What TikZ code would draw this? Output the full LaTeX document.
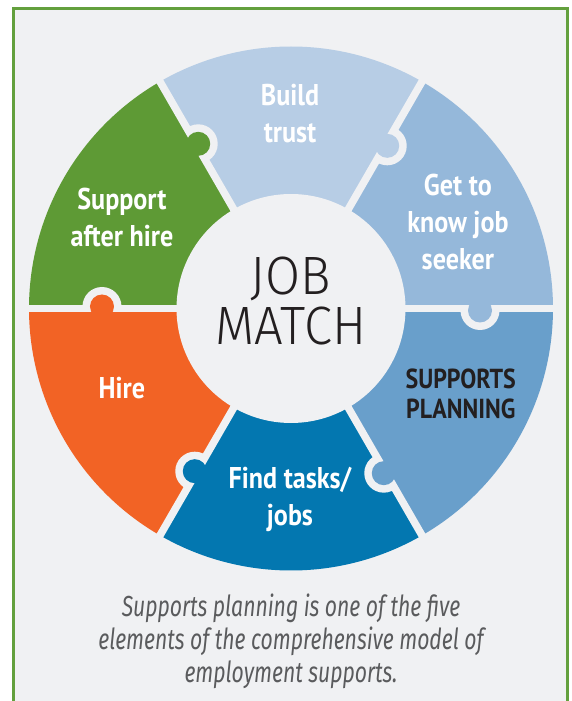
\documentclass[tikz,border=0pt]{standalone}
\usepackage{fontspec}
\usepackage{xcolor}
\usetikzlibrary{positioning}
\newfontfamily\tagfont[FakeStretch=0.87]{PT Sans}
\newfontfamily\hubfont[FakeStretch=0.94]{Fira Sans Light}
\newfontfamily\notefont[FakeStretch=0.73]{Fira Sans}

\definecolor{paper}{HTML}{F0F1F3}
\definecolor{frame}{HTML}{63A03D}
\definecolor{aftergreen}{HTML}{5E9A35}
\definecolor{trustblue}{HTML}{B7CDE5}
\definecolor{knowblue}{HTML}{95B8DA}
\definecolor{planblue}{HTML}{699FCB}
\definecolor{findblue}{HTML}{0377B0}
\definecolor{hireorange}{HTML}{F26325}
\definecolor{ink}{HTML}{231F20}
\definecolor{notegray}{HTML}{5A5B5D}

\tikzset{
  steplabel/.style={text=white, align=center, inner sep=0pt, font=\tagfont\bfseries\fontsize{30pt}{37pt}\selectfont},
  gapline/.style={draw=paper, line width=7.5pt},
  hublabel/.style={text=ink, align=center, inner sep=0pt, font=\hubfont\fontsize{54pt}{50pt}\selectfont},
  note/.style={text=notegray, align=center, inner sep=0pt, font=\notefont\itshape\fontsize{29pt}{33pt}\selectfont},
}

\begin{document}
\begin{tikzpicture}
\useasboundingbox (-291pt,-392.5pt) rectangle (280pt,308.5pt);
\fill[white] (-291pt,-392.5pt) rectangle (280pt,308.5pt);
\draw[frame, line width=3pt, fill=paper] (-277.5pt,-400pt) rectangle (276.7pt,300pt);

% ring pieces, each starting at angle \a
\foreach \a/\c in {0/knowblue, 60/trustblue, 120/aftergreen, 180/hireorange, 240/findblue, 300/planblue}
  \fill[\c] (0,0) -- (\a:262pt) arc[start angle=\a, end angle=\a+60, radius=262pt] -- cycle;

% gaps, with the tab of each piece sticking into the next one
\foreach \a/\c in {0/knowblue, 60/trustblue, 120/aftergreen, 180/hireorange, 240/findblue, 300/planblue} {
  \draw[gapline] (0,0) -- (\a:270pt);
  \begin{scope}
    \clip (0,0) -- (\a:320pt) -- (\a-60:320pt) -- cycle;
    \fill[paper, shift={(\a-90:2pt)}] (\a:189pt) circle[radius=19.5pt];
  \end{scope}
  \fill[\c, shift={(\a-90:2pt)}] (\a:189pt) circle[radius=12pt];
}
\fill[paper] (0,0) circle[radius=114.5pt];

\node[hublabel] (hub) at (0pt,7pt) {JOB\\MATCH};

\node[steplabel] (trust) at (90.3:194.5pt) {Build\\trust};
\node[steplabel] (know) at (27.4:188pt) {Get to\\know job\\seeker};
\node[steplabel, text=ink, font=\tagfont\bfseries\fontsize{27.5pt}{30pt}\selectfont] (plan) at (-26.7:190pt) {SUPPORTS\\PLANNING};
\node[steplabel] (find) at (-90.3:191pt) {Find tasks/\\jobs};
\node[steplabel] (hire) at (205.2:187pt) {Hire};
\node[steplabel] (after) at (151.7:192pt) {Support\\after hire};

\node[note] (caption) at (0pt,-332.5pt) {Supports planning is one of the five\\elements of the comprehensive model of\\employment supports.};
\end{tikzpicture}
\end{document}
